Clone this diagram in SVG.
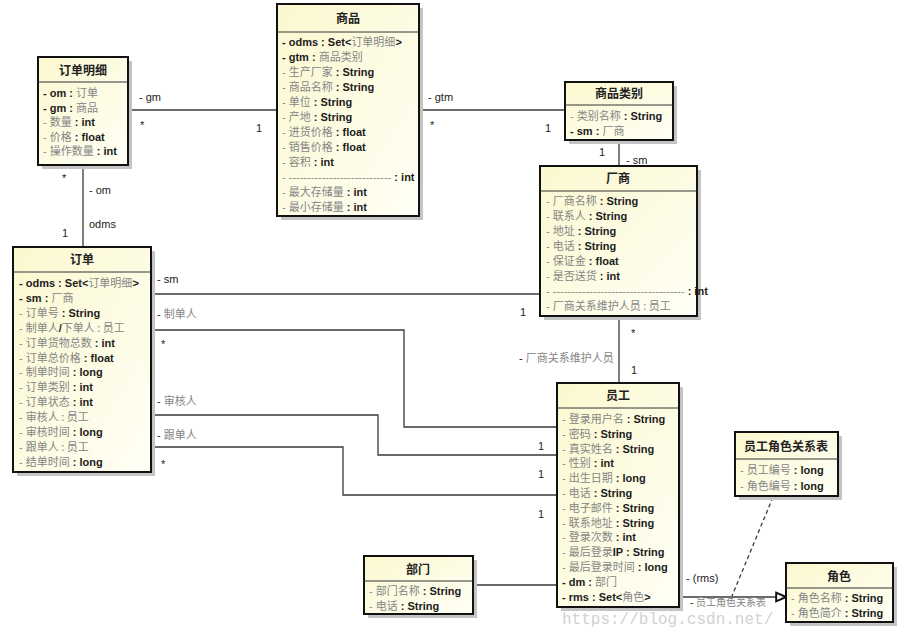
<svg xmlns="http://www.w3.org/2000/svg" width="900" height="632" viewBox="0 0 900 632">
<defs>
<linearGradient id="g" x1="0" y1="0" x2="1" y2="1">
<stop offset="0" stop-color="#fbf8cf"/>
<stop offset="1" stop-color="#fffff6"/>
</linearGradient>
<marker id="tri" markerWidth="12" markerHeight="12" refX="10" refY="5" orient="auto" markerUnits="userSpaceOnUse" viewBox="0 0 11 10">
<path d="M1,1 L10,5 L1,9 Z" fill="#fff" stroke="#111" stroke-width="1.8"/>
</marker>
<style>
.sh{fill:#c4c4c4}
.box{fill:url(#g);stroke:#111;stroke-width:2}
.sep{stroke:#333;stroke-width:1}
.t{font-family:"Noto Sans CJK SC",sans-serif;font-size:12px;font-weight:bold;fill:#222;text-anchor:middle}
.a{font-family:"Liberation Sans","Noto Sans CJK SC",sans-serif;font-size:11px;font-weight:bold;fill:#1c1c1c}
.z{font-family:"Noto Sans CJK SC",sans-serif;font-weight:normal;fill:#858585}
.d{font-weight:normal;fill:#8a8a8a}
.c{fill:none;stroke:#3a3a3a;stroke-width:1.3}
.l{font-family:"Liberation Sans","Noto Sans CJK SC",sans-serif;font-size:11px;fill:#222}
.wm{font-family:"Liberation Mono",monospace;font-size:16px;fill:#d2d2d2}
</style>
</defs>
<rect width="900" height="632" fill="#fff"/>

<g id="connectors">
<line class="c" x1="128" y1="110" x2="277" y2="110"/>
<line class="c" x1="419" y1="110" x2="565" y2="110"/>
<line class="c" x1="619" y1="140" x2="619" y2="165"/>
<line class="c" x1="83" y1="165" x2="83" y2="247"/>
<line class="c" x1="151" y1="294" x2="540" y2="294"/>
<line class="c" x1="619" y1="316" x2="619" y2="383"/>
<polyline class="c" points="151,330 404,330 404,427 557,427"/>
<polyline class="c" points="151,415 378,415 378,455 557,455"/>
<polyline class="c" points="151,447 343,447 343,495 557,495"/>
<line class="c" x1="473" y1="585" x2="557" y2="585"/>
<line class="c" x1="679" y1="597" x2="786" y2="597" marker-end="url(#tri)"/>
<line class="c" x1="773" y1="497" x2="732" y2="596" stroke-dasharray="4,3"/>
<text class="l" x="139" y="101">- gm</text>
<text class="l" x="140" y="129">*</text>
<text class="l" x="256" y="132">1</text>
<text class="l" x="428" y="101">- gtm</text>
<text class="l" x="430" y="129">*</text>
<text class="l" x="545" y="132">1</text>
<text class="l" x="599" y="156">1</text>
<text class="l" x="626" y="164">- sm</text>
<text class="l" x="62" y="182">*</text>
<text class="l" x="89" y="194">- om</text>
<text class="l" x="89" y="228">odms</text>
<text class="l" x="62" y="237">1</text>
<text class="l" x="157" y="283">- sm</text>
<text class="l" x="520" y="316">1</text>
<text class="l" x="157" y="318">- <tspan class="z">制单人</tspan></text>
<text class="l" x="161" y="348">*</text>
<text class="l" x="157" y="405">- <tspan class="z">审核人</tspan></text>
<text class="l" x="157" y="439">- <tspan class="z">跟单人</tspan></text>
<text class="l" x="161" y="468">*</text>
<text class="l" x="538" y="450">1</text>
<text class="l" x="538" y="478">1</text>
<text class="l" x="538" y="518">1</text>
<text class="l" x="631" y="337">*</text>
<text class="l" x="519" y="362">- <tspan class="z">厂商关系维护人员</tspan></text>
<text class="l" x="631" y="374">1</text>
<text class="l" x="686" y="582">- (rms)</text>
<text class="l" x="690" y="606" style="font-size:10px">- <tspan class="z">员工角色关系表</tspan></text>
</g>

<g id="n-dingdanmingxi">
<rect class="sh" x="42" y="61" width="90" height="108"/>
<rect class="box" x="38" y="57" width="90" height="108"/>
<line class="sep" x1="38" y1="82" x2="128" y2="82"/>
<text class="t" x="83" y="75">订单明细</text>
<text class="a" x="43" y="97">- om : <tspan class="z">订单</tspan></text>
<text class="a" x="43" y="111.6">- gm : <tspan class="z">商品</tspan></text>
<text class="a" x="43" y="126.2"><tspan class="d">- </tspan><tspan class="z">数量</tspan> : int</text>
<text class="a" x="43" y="140.8"><tspan class="d">- </tspan><tspan class="z">价格</tspan> : float</text>
<text class="a" x="43" y="155.4"><tspan class="d">- </tspan><tspan class="z">操作数量</tspan> : int</text>
</g>

<g id="n-shangpin">
<rect class="sh" x="281" y="8" width="142" height="212"/>
<rect class="box" x="277" y="4" width="142" height="212"/>
<line class="sep" x1="277" y1="32" x2="419" y2="32"/>
<text class="t" x="348" y="23">商品</text>
<text class="a" x="282" y="46">- odms : Set&lt;<tspan class="z">订单明细</tspan>&gt;</text>
<text class="a" x="282" y="61">- gtm : <tspan class="z">商品类别</tspan></text>
<text class="a" x="282" y="76"><tspan class="d">- </tspan><tspan class="z">生产厂家</tspan> : String</text>
<text class="a" x="282" y="91"><tspan class="d">- </tspan><tspan class="z">商品名称</tspan> : String</text>
<text class="a" x="282" y="106"><tspan class="d">- </tspan><tspan class="z">单位</tspan> : String</text>
<text class="a" x="282" y="121"><tspan class="d">- </tspan><tspan class="z">产地</tspan> : String</text>
<text class="a" x="282" y="136"><tspan class="d">- </tspan><tspan class="z">进货价格</tspan> : float</text>
<text class="a" x="282" y="151"><tspan class="d">- </tspan><tspan class="z">销售价格</tspan> : float</text>
<text class="a" x="282" y="166"><tspan class="d">- </tspan><tspan class="z">容积</tspan> : int</text>
<text class="a" x="282" y="181"><tspan class="d">- ----------------------------</tspan> : int</text>
<text class="a" x="282" y="196"><tspan class="d">- </tspan><tspan class="z">最大存储量</tspan> : int</text>
<text class="a" x="282" y="211"><tspan class="d">- </tspan><tspan class="z">最小存储量</tspan> : int</text>
</g>

<g id="n-shangpinleibie">
<rect class="sh" x="569" y="86" width="108" height="58"/>
<rect class="box" x="565" y="82" width="108" height="58"/>
<line class="sep" x1="565" y1="105" x2="673" y2="105"/>
<text class="t" x="619" y="98">商品类别</text>
<text class="a" x="570" y="120"><tspan class="d">- </tspan><tspan class="z">类别名称</tspan> : String</text>
<text class="a" x="570" y="135">- sm : <tspan class="z">厂商</tspan></text>
</g>

<g id="n-changshang">
<rect class="sh" x="544" y="170" width="157" height="150"/>
<rect class="box" x="540" y="166" width="157" height="150"/>
<line class="sep" x1="540" y1="191" x2="697" y2="191"/>
<text class="t" x="618" y="183">厂商</text>
<text class="a" x="546" y="205"><tspan class="d">- </tspan><tspan class="z">厂商名称</tspan> : String</text>
<text class="a" x="546" y="220"><tspan class="d">- </tspan><tspan class="z">联系人</tspan> : String</text>
<text class="a" x="546" y="235"><tspan class="d">- </tspan><tspan class="z">地址</tspan> : String</text>
<text class="a" x="546" y="250"><tspan class="d">- </tspan><tspan class="z">电话</tspan> : String</text>
<text class="a" x="546" y="265"><tspan class="d">- </tspan><tspan class="z">保证金</tspan> : float</text>
<text class="a" x="546" y="280"><tspan class="d">- </tspan><tspan class="z">是否送货</tspan> : int</text>
<text class="a" x="546" y="295"><tspan class="d">- ------------------------------------</tspan> : int</text>
<text class="a" x="546" y="310"><tspan class="d">- </tspan><tspan class="z">厂商关系维护人员 : 员工</tspan></text>
</g>

<g id="n-dingdan">
<rect class="sh" x="17" y="251" width="138" height="225"/>
<rect class="box" x="13" y="247" width="138" height="225"/>
<line class="sep" x1="13" y1="272" x2="151" y2="272"/>
<text class="t" x="82" y="264">订单</text>
<text class="a" x="19" y="287">- odms : Set&lt;<tspan class="z">订单明细</tspan>&gt;</text>
<text class="a" x="19" y="301.9">- sm : <tspan class="z">厂商</tspan></text>
<text class="a" x="19" y="316.8"><tspan class="d">- </tspan><tspan class="z">订单号</tspan> : String</text>
<text class="a" x="19" y="331.7"><tspan class="d">- </tspan><tspan class="z">制单人</tspan>/<tspan class="z">下单人 : 员工</tspan></text>
<text class="a" x="19" y="346.6"><tspan class="d">- </tspan><tspan class="z">订单货物总数</tspan> : int</text>
<text class="a" x="19" y="361.5"><tspan class="d">- </tspan><tspan class="z">订单总价格</tspan> : float</text>
<text class="a" x="19" y="376.4"><tspan class="d">- </tspan><tspan class="z">制单时间</tspan> : long</text>
<text class="a" x="19" y="391.3"><tspan class="d">- </tspan><tspan class="z">订单类别</tspan> : int</text>
<text class="a" x="19" y="406.2"><tspan class="d">- </tspan><tspan class="z">订单状态</tspan> : int</text>
<text class="a" x="19" y="421.1"><tspan class="d">- </tspan><tspan class="z">审核人 : 员工</tspan></text>
<text class="a" x="19" y="436"><tspan class="d">- </tspan><tspan class="z">审核时间</tspan> : long</text>
<text class="a" x="19" y="450.9"><tspan class="d">- </tspan><tspan class="z">跟单人 : 员工</tspan></text>
<text class="a" x="19" y="465.8"><tspan class="d">- </tspan><tspan class="z">结单时间</tspan> : long</text>
</g>

<g id="n-yuangong">
<rect class="sh" x="561" y="387" width="122" height="224"/>
<rect class="box" x="557" y="383" width="122" height="224"/>
<line class="sep" x1="557" y1="408" x2="679" y2="408"/>
<text class="t" x="618" y="400">员工</text>
<text class="a" x="562" y="423"><tspan class="d">- </tspan><tspan class="z">登录用户名</tspan> : String</text>
<text class="a" x="562" y="437.8"><tspan class="d">- </tspan><tspan class="z">密码</tspan> : String</text>
<text class="a" x="562" y="452.6"><tspan class="d">- </tspan><tspan class="z">真实姓名</tspan> : String</text>
<text class="a" x="562" y="467.4"><tspan class="d">- </tspan><tspan class="z">性别</tspan> : int</text>
<text class="a" x="562" y="482.2"><tspan class="d">- </tspan><tspan class="z">出生日期</tspan> : long</text>
<text class="a" x="562" y="497"><tspan class="d">- </tspan><tspan class="z">电话</tspan> : String</text>
<text class="a" x="562" y="511.8"><tspan class="d">- </tspan><tspan class="z">电子邮件</tspan> : String</text>
<text class="a" x="562" y="526.6"><tspan class="d">- </tspan><tspan class="z">联系地址</tspan> : String</text>
<text class="a" x="562" y="541.4"><tspan class="d">- </tspan><tspan class="z">登录次数</tspan> : int</text>
<text class="a" x="562" y="556.2"><tspan class="d">- </tspan><tspan class="z">最后登录</tspan>IP : String</text>
<text class="a" x="562" y="571"><tspan class="d">- </tspan><tspan class="z">最后登录时间</tspan> : long</text>
<text class="a" x="562" y="585.8">- dm : <tspan class="z">部门</tspan></text>
<text class="a" x="562" y="600.6">- rms : Set&lt;<tspan class="z">角色</tspan>&gt;</text>
</g>

<g id="n-yuangongjuese">
<rect class="sh" x="739" y="436" width="103" height="64"/>
<rect class="box" x="735" y="432" width="103" height="64"/>
<line class="sep" x1="735" y1="459" x2="838" y2="459"/>
<text class="t" x="786" y="451">员工角色关系表</text>
<text class="a" x="740" y="474"><tspan class="d">- </tspan><tspan class="z">员工编号</tspan> : long</text>
<text class="a" x="740" y="490"><tspan class="d">- </tspan><tspan class="z">角色编号</tspan> : long</text>
</g>

<g id="n-bumen">
<rect class="sh" x="368" y="560" width="109" height="58"/>
<rect class="box" x="364" y="556" width="109" height="58"/>
<line class="sep" x1="364" y1="581" x2="473" y2="581"/>
<text class="t" x="418" y="574">部门</text>
<text class="a" x="369" y="595"><tspan class="d">- </tspan><tspan class="z">部门名称</tspan> : String</text>
<text class="a" x="369" y="610"><tspan class="d">- </tspan><tspan class="z">电话</tspan> : String</text>
</g>

<g id="n-juese">
<rect class="sh" x="790" y="567" width="107" height="59"/>
<rect class="box" x="786" y="563" width="107" height="59"/>
<line class="sep" x1="786" y1="588" x2="893" y2="588"/>
<text class="t" x="839" y="581">角色</text>
<text class="a" x="791" y="602"><tspan class="d">- </tspan><tspan class="z">角色名称</tspan> : String</text>
<text class="a" x="791" y="617"><tspan class="d">- </tspan><tspan class="z">角色简介</tspan> : String</text>
</g>

<text class="wm" x="562" y="624">https://blog.csdn.net/</text>
</svg>
